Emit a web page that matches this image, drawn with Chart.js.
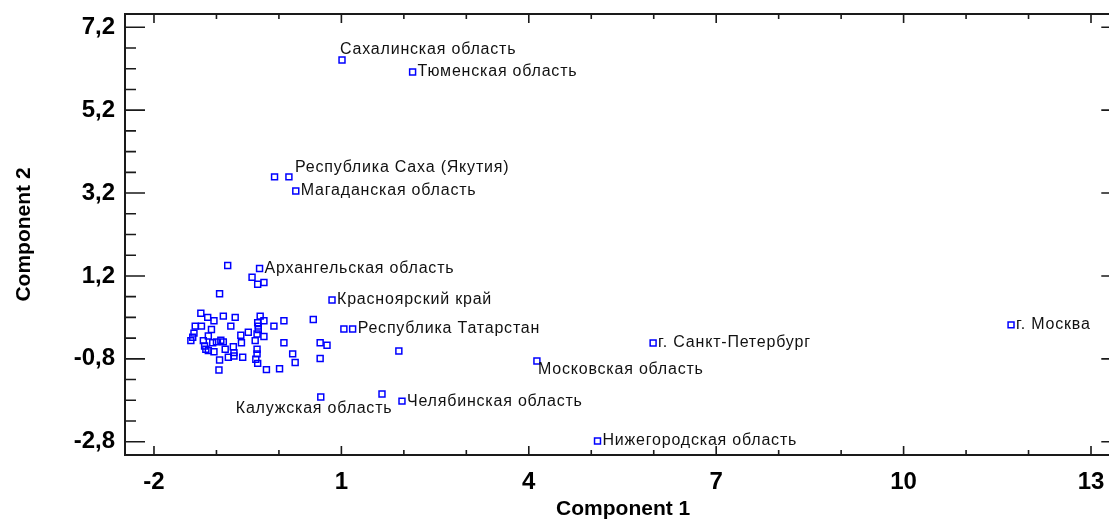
<!DOCTYPE html>
<html>
<head>
<meta charset="utf-8">
<script src="https://cdn.jsdelivr.net/npm/chart.js@4"></script>
<style>
  html, body { margin: 0; background: #fff; overflow: hidden; }
  #wrap { width: 1127px; height: 521px; }
</style>
</head>
<body>
<div id="wrap"><canvas id="scores"></canvas></div>
<script>
// labelled regions
const regionNames = [
  'Сахалинская область', 'Тюменская область', 'Республика Саха (Якутия)', '',
  'Магаданская область', 'Архангельская область', 'Красноярский край', '',
  'Республика Татарстан', 'г. Санкт-Петербург', 'г. Москва', 'Московская область',
  'Челябинская область', 'Калужская область', '', 'Нижегородская область'
];
const namedComp1 = [1.01, 2.14, 0.16, -0.07, 0.27, -0.31, 0.85, 1.04, 1.18, 5.99, 11.72, 4.13, 1.97, 0.67, 1.65, 5.10];
const namedComp2 = [6.41, 6.12, 3.59, 3.59, 3.25, 1.38, 0.62, -0.08, -0.08, -0.42, 0.02, -0.85, -1.82, -1.72, -1.65, -2.78];

// the rest of the cloud
const otherComp1 = [
  -0.82, -0.43, -0.34, -0.24, -0.95, -1.25, -1.14, -1.04, -0.89, -0.70,
  -0.30, -0.24, -0.34, -0.33, 0.08, 0.55, -0.08, -1.34, -1.24, -1.08,
  -0.77, -1.36, -1.38, -1.13, -1.41, -1.21, -1.06, -1.00, -0.93, -0.89,
  -0.61, -0.49, -0.35, -0.24, -1.17, -1.13, -1.04, -0.86, -0.73, -0.60,
  -0.38, -0.72, -0.81, -0.72, -0.58, -0.35, -0.35, -0.37, -0.34, -0.95,
  -0.96, -0.20, 0.01, 0.08, 0.66, 0.77, 0.22, 0.26, 0.66, 1.92,
  -1.19, -0.33
];
const otherComp2 = [
  1.45, 1.17, 1.00, 1.04, 0.77, 0.30, 0.20, 0.12, 0.23, 0.20,
  0.23, 0.12, 0.07, -0.01, 0.12, 0.15, -0.01, -0.01, -0.01, -0.09,
  -0.01, -0.18, -0.28, -0.25, -0.36, -0.36, -0.41, -0.39, -0.35, -0.39,
  -0.23, -0.16, -0.20, -0.26, -0.57, -0.60, -0.63, -0.57, -0.51, -0.41,
  -0.36, -0.65, -0.76, -0.73, -0.76, -0.57, -0.68, -0.81, -0.91, -0.83,
  -1.07, -1.06, -1.04, -0.41, -0.41, -0.47, -0.68, -0.89, -0.79, -0.61,
  -0.49, -0.09
];

const xTicks = [-2, 1, 4, 7, 10, 13];
const yTicks = [-2.8, -0.8, 1.2, 3.2, 5.2, 7.2];

// where the label sits relative to its marker (default: right of it)
const labelShift = {
  'Сахалинская область': [-2, -10],
  'Республика Саха (Якутия)': [6, -9],
  'Московская область': [1, 9],
  'Калужская область': [-85, 12]
};

const points = [];
namedComp1.forEach((v, i) => points.push({ x: v, y: namedComp2[i] }));
otherComp1.forEach((v, i) => points.push({ x: v, y: otherComp2[i] }));

const tickFont = { family: "'Liberation Sans', Arial, sans-serif", size: 24, weight: 'bold' };
const titleFont = { family: "'Liberation Sans', Arial, sans-serif", size: 21, weight: 'bold' };

// box around the plot with inward ticks, like the original software
const framePlugin = {
  id: 'frame',
  afterDraw(chart) {
    const { ctx, chartArea: a, scales } = chart;
    const sx = scales.x, sy = scales.y;
    ctx.save();
    ctx.strokeStyle = '#1a1a1a';
    ctx.lineWidth = 2;
    ctx.strokeRect(a.left, a.top, a.right - a.left, a.bottom - a.top);
    ctx.lineWidth = 1.6;
    ctx.beginPath();
    for (let v = xTicks[0]; v <= sx.max; v += 1) {
      const px = sx.getPixelForValue(v);
      const len = xTicks.includes(v) ? 9 : 5;
      ctx.moveTo(px, a.bottom); ctx.lineTo(px, a.bottom - len);
      ctx.moveTo(px, a.top); ctx.lineTo(px, a.top + len);
    }
    for (let k = 0; ; k++) {
      const v = +(yTicks[yTicks.length - 1] - k * 0.5).toFixed(1);
      if (v < sy.min) break;
      const py = sy.getPixelForValue(v);
      const len = k % 4 === 0 ? 20 : 11;
      ctx.moveTo(a.left, py); ctx.lineTo(a.left + len, py);
      ctx.moveTo(a.right, py); ctx.lineTo(a.right - len, py);
    }
    ctx.stroke();
    ctx.restore();
  }
};

const namesPlugin = {
  id: 'names',
  afterDatasetsDraw(chart) {
    const { ctx } = chart;
    const meta = chart.getDatasetMeta(0);
    ctx.save();
    ctx.font = "16px 'Liberation Sans', Arial, sans-serif";
    ctx.letterSpacing = '0.8px';
    ctx.fillStyle = '#111';
    ctx.textAlign = 'left';
    ctx.textBaseline = 'middle';
    regionNames.forEach((name, i) => {
      if (!name) return;
      const el = meta.data[i];
      const shift = labelShift[name] || [5, 0];
      ctx.fillText(name, el.x + shift[0], el.y + shift[1]);
    });
    ctx.restore();
  }
};

new Chart(document.getElementById('scores'), {
  type: 'scatter',
  data: {
    datasets: [{
      data: points,
      pointStyle: 'rect',
      pointRadius: 4.2,
      pointHoverRadius: 4.2,
      borderWidth: 1.5,
      borderColor: '#0000ff',
      backgroundColor: 'rgba(255,255,255,0)'
    }]
  },
  options: {
    responsive: true,
    maintainAspectRatio: false,
    animation: false,
    layout: { padding: { top: 14, right: 0, bottom: 0, left: 0 } },
    plugins: { legend: { display: false }, tooltip: { enabled: false } },
    scales: {
      x: {
        type: 'linear',
        min: -2.464,
        max: 13.485,
        afterFit(scale) {
          scale.height = 66;
          scale.paddingLeft = 0;
          scale.paddingRight = 0;
        },
        afterBuildTicks(scale) { scale.ticks = xTicks.map(v => ({ value: v })); },
        grid: { display: false, drawTicks: false },
        border: { display: false },
        ticks: { font: tickFont, color: '#000', padding: 13, maxRotation: 0, autoSkip: false },
        title: { display: true, text: 'Component 1', font: titleFont, color: '#000', padding: { top: 0, bottom: -1 } }
      },
      y: {
        type: 'linear',
        min: -3.12,
        max: 7.52,
        afterFit(scale) {
          scale.width = 125;
          scale.paddingTop = 0;
          scale.paddingBottom = 0;
        },
        afterBuildTicks(scale) { scale.ticks = yTicks.map(v => ({ value: v })); },
        grid: { display: false, drawTicks: false },
        border: { display: false },
        ticks: {
          font: tickFont, color: '#000', padding: 10, autoSkip: false,
          callback: v => v.toFixed(1).replace('.', ',')
        },
        title: { display: true, text: 'Component 2', font: titleFont, color: '#000', padding: { top: 12, bottom: 0 } }
      }
    }
  },
  plugins: [framePlugin, namesPlugin]
});
</script>
</body>
</html>
